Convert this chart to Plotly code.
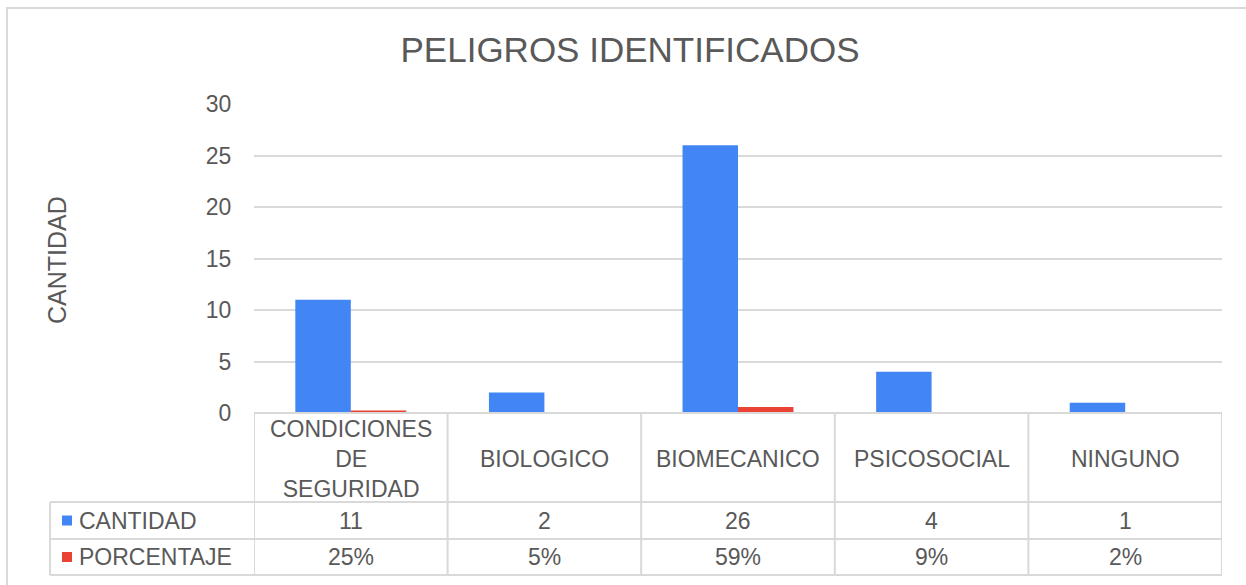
import plotly.graph_objects as go

# ---- data ----
categories = ["CONDICIONES<br>DE<br>SEGURIDAD", "BIOLOGICO", "BIOMECANICO", "PSICOSOCIAL", "NINGUNO"]
cantidad = [11, 2, 26, 4, 1]
porcentaje = [0.25, 0.05, 0.59, 0.09, 0.02]
series_names = ["CANTIDAD", "PORCENTAJE"]
y_ticks = [0, 5, 10, 15, 20, 25, 30]

# ---- style ----
W, H = 1246, 585
L, R, T, B = 254, 1222, 104, 413  # plot area pixels
BLUE = "#4285F4"
RED = "#EA4335"
TXT = "#595959"
GRID = "#d9d9d9"
FONT = "Liberation Sans, Arial, sans-serif"
FS = 23

def px(x):
    return (x - L) / (R - L)

def py(y):
    return (B - y) / (B - T)

fig = go.Figure()
fig.add_bar(x=list(range(len(categories))), y=cantidad, name=series_names[0],
            marker=dict(color=BLUE, line=dict(width=0)))
fig.add_bar(x=list(range(len(categories))), y=porcentaje, name=series_names[1],
            marker=dict(color=RED, line=dict(width=0)))

shapes = []
annotations = []
line = dict(color=GRID, width=2)

row_y = [413, 502, 539, 575]  # table row borders (px)
shapes.append(dict(type="line", xref="paper", yref="paper", x0=0, x1=1, y0=py(row_y[0]), y1=py(row_y[0]), line=line))
for yy in row_y[1:]:
    shapes.append(dict(type="line", xref="paper", yref="paper", x0=px(50), x1=1, y0=py(yy), y1=py(yy), line=line))
shapes.append(dict(type="line", xref="paper", yref="paper", x0=px(50), x1=px(50), y0=py(row_y[1]), y1=py(row_y[3]), line=line))
for i in range(len(categories) + 1):
    shapes.append(dict(type="line", xref="x", yref="paper", x0=i - 0.5, x1=i - 0.5,
                       y0=py(row_y[0]), y1=py(row_y[3]), line=line))

for i, c in enumerate(categories):
    annotations.append(dict(x=i, y=py((row_y[0] + row_y[1]) / 2 + 1), xref="x", yref="paper", text=c,
                            xanchor="center", yanchor="middle",
                            showarrow=False, font=dict(size=FS, color=TXT, family=FONT), align="center"))
row_vals = [[str(v) for v in cantidad], [f"{round(v*100)}%" for v in porcentaje]]
row_colors = [BLUE, RED]
for r in range(2):
    yc = (row_y[r + 1] + row_y[r + 2]) / 2
    for i, v in enumerate(row_vals[r]):
        annotations.append(dict(x=i, y=py(yc), xref="x", yref="paper", text=v, showarrow=False,
                                xanchor="center", yanchor="middle",
                                font=dict(size=FS, color=TXT, family=FONT)))
    annotations.append(dict(x=px(77), y=py(yc), xref="paper", yref="paper", text=series_names[r],
                            xanchor="left", yanchor="middle", showarrow=False,
                            font=dict(size=FS, color=TXT, family=FONT)))
    shapes.append(dict(type="rect", xref="paper", yref="paper", x0=px(62), x1=px(72),
                       y0=py(yc + 5), y1=py(yc - 5), fillcolor=row_colors[r], line=dict(width=0)))

annotations.append(dict(x=px(57), y=py(260), xref="paper", yref="paper", text="CANTIDAD", textangle=-90,
                        xanchor="center", yanchor="middle",
                        showarrow=False, font=dict(size=25, color=TXT, family=FONT)))

shapes.append(dict(type="rect", xref="paper", yref="paper", x0=px(7), x1=px(1260), y0=py(600), y1=py(8),
                   line=dict(color=GRID, width=2), fillcolor="rgba(0,0,0,0)", layer="below"))

fig.update_layout(
    width=W, height=H,
    margin=dict(l=L, r=W - R, t=T, b=H - B),
    paper_bgcolor="white", plot_bgcolor="white",
    barmode="group", bargap=0.427, bargroupgap=0,
    showlegend=False,
    title=dict(text="PELIGROS IDENTIFICADOS", x=630 / W, xref="container", xanchor="center",
               y=1 - 50 / H, yref="container", yanchor="middle",
               font=dict(size=35, color=TXT, family=FONT)),
    xaxis=dict(range=[-0.5, len(categories) - 0.5], showticklabels=False, showgrid=False,
               zeroline=False, showline=False, fixedrange=True),
    yaxis=dict(range=[0, 30], tickvals=y_ticks, showgrid=True, gridcolor=GRID, gridwidth=2,
               zeroline=False, showline=False, ticks="outside", ticklen=17, tickcolor="rgba(0,0,0,0)",
               tickfont=dict(size=FS, color=TXT, family=FONT)),
    shapes=shapes, annotations=annotations,
    font=dict(family=FONT, color=TXT),
)

fig.write_html("out.html", config={"displayModeBar": False},
               post_script="document.body.style.margin='0';")
